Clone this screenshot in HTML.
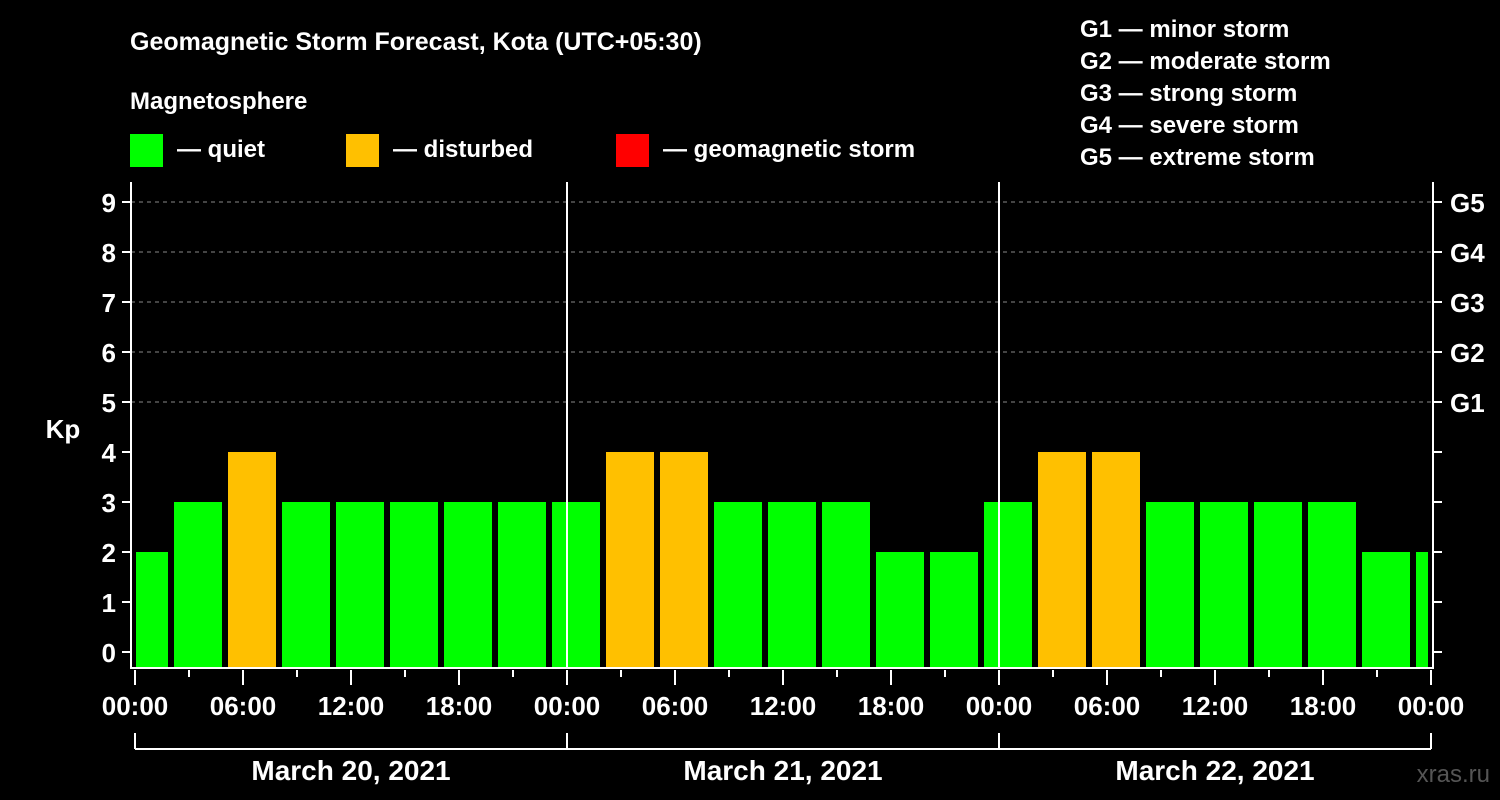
<!DOCTYPE html>
<html><head><meta charset="utf-8"><style>
body{margin:0;background:#000;width:1500px;height:800px;overflow:hidden}
svg{display:block;font-family:"Liberation Sans",Arial,sans-serif;font-weight:bold}
</style></head><body>
<svg id="chart" width="1500" height="800">
<text x="130" y="50" fill="#fff" font-size="25">Geomagnetic Storm Forecast, Kota (UTC+05:30)</text>
<text x="130" y="109" fill="#fff" font-size="24">Magnetosphere</text>
<g><rect x="130" y="134" width="33" height="33" fill="#00ff00"/><text x="177" y="157" fill="#fff" font-size="24">— quiet</text></g>
<g><rect x="346" y="134" width="33" height="33" fill="#ffc000"/><text x="393" y="157" fill="#fff" font-size="24">— disturbed</text></g>
<g><rect x="616" y="134" width="33" height="33" fill="#ff0000"/><text x="663" y="157" fill="#fff" font-size="24">— geomagnetic storm</text></g>
<g fill="#fff" font-size="24">
<text x="1080" y="37">G1 — minor storm</text><text x="1080" y="69">G2 — moderate storm</text><text x="1080" y="101">G3 — strong storm</text><text x="1080" y="133">G4 — severe storm</text><text x="1080" y="165">G5 — extreme storm</text></g>
<text x="63" y="438" fill="#fff" font-size="26" text-anchor="middle">Kp</text>
<text x="1490" y="782" fill="#555" font-size="24" text-anchor="end" font-weight="normal">xras.ru</text>
<g id="grid"></g><g id="bars"></g><g id="axes"></g>
</svg>
<script>
const kpValues=[2,3,4,3,3,3,3,3,3,4,4,3,3,3,2,2,3,4,4,3,3,3,3,2,2];
const yTicks=[0,1,2,3,4,5,6,7,8,9];
const gLabels=["G1","G2","G3","G4","G5"];
const hourLabels=["00:00","06:00","12:00","18:00"];
const dayLabels=["March 20, 2021","March 21, 2021","March 22, 2021"];
const firstSlotHour=-1;
const NS="http://www.w3.org/2000/svg";
const X0=135,PXH=18,plotL=131,plotR=1433,plotT=182,plotB=668;
const x=h=>X0+h*PXH;
const y=v=>652-v*50;
function mk(tag,attrs,parent){const e=document.createElementNS(NS,tag);for(const k in attrs)e.setAttribute(k,attrs[k]);parent.appendChild(e);return e;}
const grid=document.getElementById('grid'),bars=document.getElementById('bars'),axes=document.getElementById('axes');
for(const v of yTicks){
  if(v>=5){const l=mk('line',{x1:plotL,x2:plotR,y1:y(v),y2:y(v),stroke:'#888','stroke-dasharray':'4,4','stroke-width':1},grid);
  
  }
  const t=mk('line',{x1:plotL-9,x2:plotL,y1:y(v),y2:y(v),stroke:'#fff','stroke-width':2},axes);
  
  
  const tr=mk('line',{x1:plotR,x2:plotR+9,y1:y(v),y2:y(v),stroke:'#fff','stroke-width':2},axes);
  
  
  const lb=mk('text',{x:116,y:y(v)+10,fill:'#fff','font-size':26,'text-anchor':'end'},axes);lb.textContent=v;
  
  
}
gLabels.forEach((g,i)=>{const t=mk('text',{x:1450,y:y(5+i)+10,fill:'#fff','font-size':26},axes);t.textContent=g;
  
  });
kpValues.forEach((v,i)=>{
  const h0=firstSlotHour+3*i;
  let xa=x(h0)+3,xb=x(h0+3)-3;
  xa=Math.max(xa,plotL+5);xb=Math.min(xb,plotR-5);
  const r=mk('rect',{x:xa,y:y(v),width:xb-xa,height:plotB-y(v),fill:v>=5?'#ff0000':(v>=4?'#ffc000':'#00ff00')},bars);
  
  
});
const frame=mk('path',{d:`M${plotL},${plotT}V${plotB}H${plotR}V${plotT}`,stroke:'#fff','stroke-width':2,fill:'none'},axes);


for(let d=0;d<=3;d++){
  if(d>0&&d<3){const l=mk('line',{x1:x(24*d),x2:x(24*d),y1:plotT,y2:plotB,stroke:'#fff','stroke-width':2},axes);
  
  }
  const b=mk('line',{x1:x(24*d),x2:x(24*d),y1:733,y2:749,stroke:'#fff','stroke-width':2},axes);
  
  
}
const br=mk('line',{x1:x(0),x2:x(72),y1:749,y2:749,stroke:'#fff','stroke-width':2},axes);


for(let h=0;h<=72;h+=3){
  const major=h%6===0;
  const t=mk('line',{x1:x(h),x2:x(h),y1:plotB+2,y2:major?plotB+17:plotB+9,stroke:'#fff','stroke-width':2},axes);
  
  
  if(major){const lb=mk('text',{x:x(h),y:715,fill:'#fff','font-size':26,'text-anchor':'middle'},axes);
  lb.textContent=hourLabels[(h/6)%4];
  
  }
}
dayLabels.forEach((d,i)=>{const t=mk('text',{x:x(24*i+12),y:780,fill:'#fff','font-size':28,'text-anchor':'middle'},axes);t.textContent=d;
  
  });
</script>
</body></html>
